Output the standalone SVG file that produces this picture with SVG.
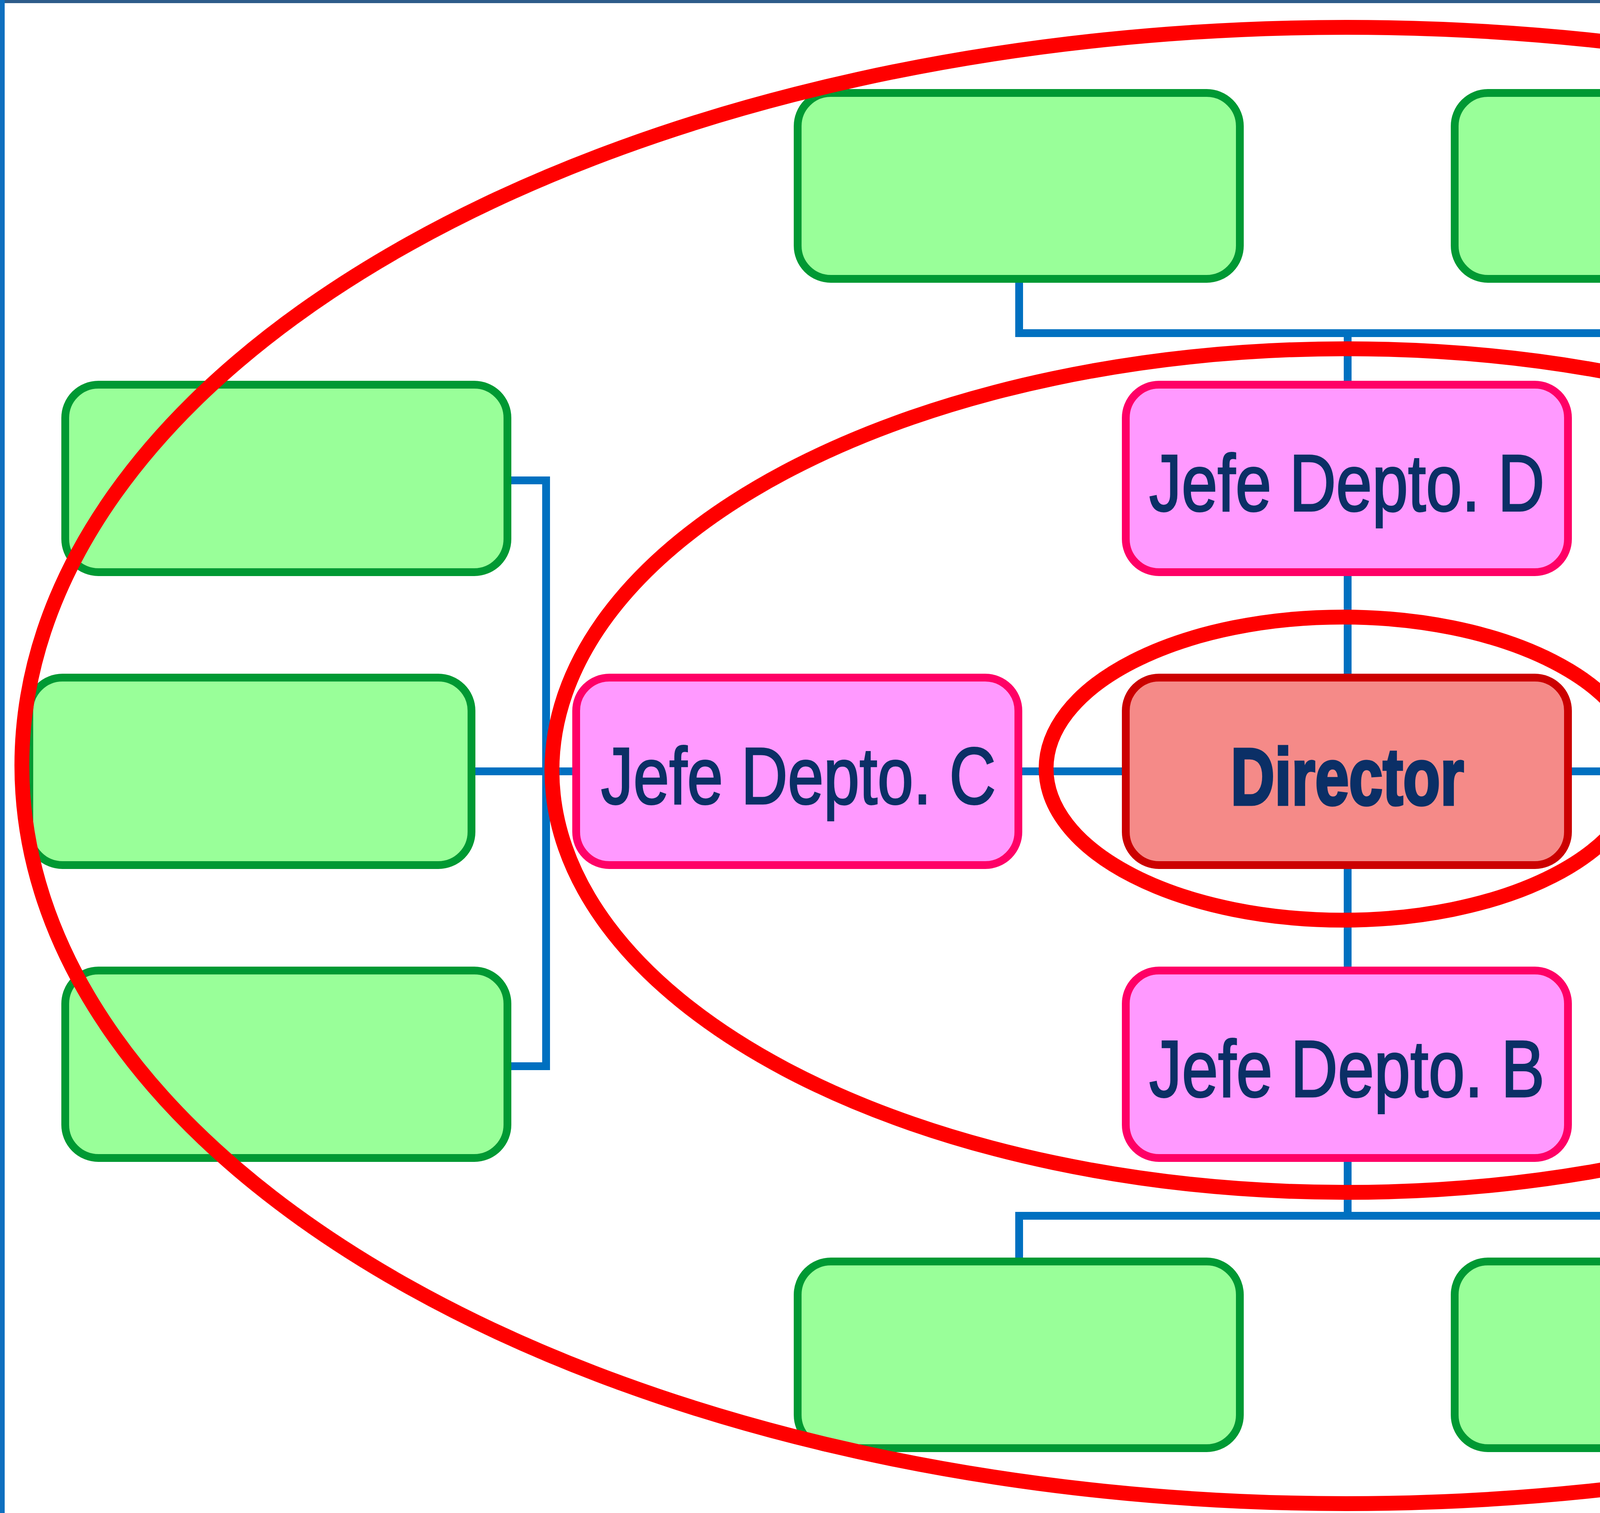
<svg xmlns="http://www.w3.org/2000/svg" width="6886" height="3874" viewBox="0 0 6886 3874">
<style>
.g{fill:#99ff99;stroke:#009933;stroke-width:20}
.p{fill:#ff99ff;stroke:#ff0066;stroke-width:20}
.d{fill:#f58a88;stroke:#cc0000;stroke-width:20}
.c{fill:none;stroke:#0070c0;stroke-width:20}
.e{fill:none;stroke:#ff0000;stroke-width:38}
.t{font-family:"Liberation Sans",Arial,sans-serif;font-size:206px;fill:#0b2f66;stroke:#0b2f66;stroke-width:4;text-anchor:middle}
.b{font-weight:bold;stroke-width:7}
</style>
<rect x="0" y="0" width="6886" height="3874" fill="#ffffff"/>
<rect x="0" y="0" width="5625" height="8" fill="#2e5c8a"/>
<rect x="0" y="0" width="12" height="3874" fill="#0f6fbf"/>
<rect x="6878" y="0" width="8" height="3874" fill="#b8b8b8"/>
<g id="connectors">
<path class="c" d="M2609,714 V853 H4291 V714 M3450,853 V985"/>
<path class="c" d="M3450,2965 V3113 M2609,3230 V3113 H4291 V3230"/>
<path class="c" d="M3450,1465 V1735 M3450,2215 V2485 M2607,1975 H2882 M4014,1975 H4283"/>
<path class="c" d="M1299,1230 H1398 V2730 H1299 M1207,1975 H1475"/>
<path class="c" d="M5596,1230 H5512 V2730 H5596 M5415,1975 H5688"/>
</g>
<g id="top-left"><rect class="g" x="2042" y="238" width="1132" height="476" rx="85"/></g>
<g id="top-right"><rect class="g" x="3724" y="238" width="1132" height="476" rx="85"/></g>
<g id="bottom-left"><rect class="g" x="2042" y="3230" width="1132" height="478" rx="85"/></g>
<g id="bottom-right"><rect class="g" x="3724" y="3230" width="1132" height="478" rx="85"/></g>
<g id="left-1"><rect class="g" x="167" y="985" width="1132" height="480" rx="85"/></g>
<g id="left-2"><rect class="g" x="75" y="1735" width="1132" height="480" rx="85"/></g>
<g id="left-3"><rect class="g" x="167" y="2485" width="1132" height="480" rx="85"/></g>
<g id="right-1"><rect class="g" x="5596" y="985" width="1132" height="480" rx="85"/></g>
<g id="right-2"><rect class="g" x="5688" y="1735" width="1132" height="480" rx="85"/></g>
<g id="right-3"><rect class="g" x="5596" y="2485" width="1132" height="480" rx="85"/></g>
<g id="jefe-d"><rect class="p" x="2882" y="985" width="1132" height="480" rx="85"/><text class="t" transform="translate(3448,1308) scale(0.8035,1)">Jefe Depto. D</text></g>
<g id="director"><rect class="d" x="2882" y="1735" width="1132" height="480" rx="85"/><text class="t b" transform="translate(3449,2060) scale(0.756,1)">Director</text></g>
<g id="jefe-b"><rect class="p" x="2882" y="2485" width="1132" height="480" rx="85"/><text class="t" transform="translate(3448,2808) scale(0.811,1)">Jefe Depto. B</text></g>
<g id="jefe-c"><rect class="p" x="1475" y="1735" width="1132" height="480" rx="85"/><text class="t" transform="translate(2044,2058) scale(0.8027,1)">Jefe Depto. C</text></g>
<g id="jefe-a"><rect class="p" x="4283" y="1735" width="1132" height="480" rx="85"/><text class="t" transform="translate(4851,2057) scale(0.8045,1)">Jefe Depto. A</text></g>
<g id="rings">
<ellipse class="e" cx="3446" cy="1960" rx="3390" ry="1890"/>
<ellipse class="e" cx="3447" cy="1973" rx="2034" ry="1080"/>
<ellipse class="e" cx="3438" cy="1968" rx="760" ry="388"/>
</g>
</svg>
